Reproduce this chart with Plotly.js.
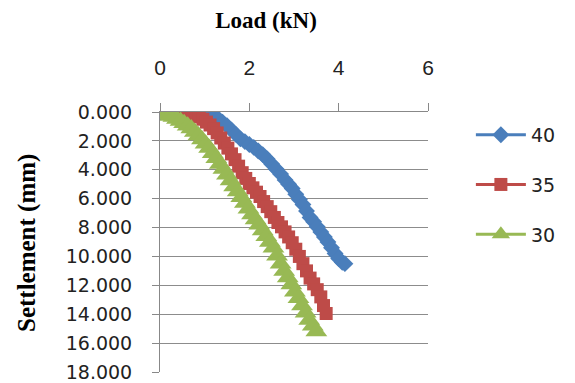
<!DOCTYPE html>
<html><head><meta charset="utf-8">
<script src="https://cdn.plot.ly/plotly-3.0.1.min.js"></script>
<style>html,body{margin:0;padding:0;background:#fff}#c{width:575px;height:383px}</style>
</head><body><div id="c"></div>
<script>
const seriesNames = ["40", "35", "30"];
const load40 = [0,0.1,0.2,0.3,0.4,0.5,0.6,0.7,0.8,0.9,1.0,1.1,1.2,1.3,1.4,1.5,1.6,1.7,1.8,1.9,2.0,2.1,2.2,2.3,2.4,2.5,2.6,2.7,2.8,2.88,2.96,3.04,3.12,3.2,3.28,3.36,3.44,3.52,3.6,3.68,3.76,3.84,3.92,4.0,4.08,4.14];
const settle40 = [0,0.01,0.02,0.03,0.04,0.05,0.06,0.08,0.1,0.13,0.17,0.22,0.3,0.45,0.7,0.95,1.25,1.55,1.85,2.05,2.25,2.45,2.7,2.95,3.25,3.6,3.95,4.3,4.7,5.0,5.3,5.7,6.05,6.4,6.85,7.3,7.6,7.95,8.3,8.65,9.0,9.4,9.8,10.15,10.4,10.5];
const load35 = [0,0.08,0.16,0.24,0.32,0.4,0.48,0.56,0.64,0.72,0.8,0.88,0.96,1.04,1.12,1.2,1.28,1.36,1.44,1.52,1.6,1.68,1.76,1.84,1.92,2.0,2.08,2.16,2.24,2.32,2.4,2.48,2.56,2.64,2.72,2.8,2.88,2.96,3.04,3.12,3.2,3.28,3.36,3.44,3.52,3.6,3.66,3.72];
const settle35 = [0,0.01,0.02,0.04,0.06,0.08,0.11,0.14,0.18,0.22,0.27,0.33,0.5,0.7,0.9,1.15,1.45,1.8,2.15,2.5,2.9,3.3,3.75,4.2,4.6,4.95,5.25,5.55,5.85,6.2,6.55,6.9,7.3,7.65,7.95,8.3,8.65,9.05,9.5,10.0,10.5,11.0,11.5,11.9,12.3,12.8,13.4,13.95];
const load30 = [0,0.06,0.12,0.18,0.24,0.3,0.38,0.46,0.54,0.62,0.7,0.78,0.86,0.94,1.02,1.1,1.18,1.26,1.34,1.42,1.5,1.58,1.66,1.74,1.82,1.9,1.98,2.06,2.14,2.22,2.3,2.38,2.46,2.54,2.62,2.7,2.78,2.86,2.94,3.02,3.1,3.18,3.26,3.34,3.42,3.5];
const settle30 = [0,0.06,0.13,0.2,0.27,0.35,0.48,0.62,0.78,0.96,1.15,1.38,1.62,1.9,2.2,2.5,2.85,3.2,3.6,3.95,4.35,4.75,5.15,5.5,5.9,6.3,6.7,7.1,7.45,7.8,8.2,8.6,9.0,9.4,9.95,10.5,11.0,11.45,11.95,12.45,12.9,13.4,13.9,14.4,14.8,15.2];
const xTicks = [0, 2, 4, 6];
const yTicks = [0, 2, 4, 6, 8, 10, 12, 14, 16, 18];

const colors = ["#4A7EBB", "#BE4B48", "#98B954"];
const symbols = ["diamond", "square", "triangle-up"];
const sizes = [13, 13, 19];
const xs = [load40, load35, load30];
const ys = [settle40, settle35, settle30];

const traces = xs.map((x, i) => ({
  x: x, y: ys[i], name: seriesNames[i], type: "scatter", mode: "lines+markers",
  line: {color: colors[i], width: 3},
  marker: {symbol: symbols[i], size: sizes[i], color: colors[i]},
  legendgroup: "g" + i
}));

const layout = {
  width: 575, height: 383,
  margin: {l: 160, r: 147, t: 112, b: 11},
  paper_bgcolor: "#fff", plot_bgcolor: "#fff",
  showlegend: true,
  legend: {x: 1.16, xanchor: "left", y: 0.985, yanchor: "top", traceorder: "grouped", tracegroupgap: 22,
           font: {family: "DejaVu Sans", size: 19, color: "#222"}, itemwidth: 50},
  title: {text: "<b>Load (kN)</b>", x: 266/575, xref: "container", xanchor: "center", y: 1 - 20/383, yref: "container", yanchor: "middle",
          font: {family: "Liberation Serif, Times New Roman", size: 23, color: "#000"}},
  xaxis: {side: "top", range: [0, 6], tickvals: xTicks, ticktext: xTicks.map(String),
          showgrid: false, zeroline: false, showline: true, linecolor: "#888", linewidth: 1,
          ticks: "outside", ticklen: 8, tickcolor: "#888", ticklabelstandoff: 20,
          tickfont: {family: "Liberation Sans, Arial", size: 21, color: "#222"}},
  yaxis: {range: [18, 0], tickvals: yTicks, ticktext: yTicks.map(v => v.toFixed(3)),
          showgrid: true, gridcolor: "#8c8c8c", gridwidth: 1, zeroline: false,
          showline: true, linecolor: "#888", linewidth: 1,
          ticks: "outside", ticklen: 7, tickcolor: "#888", ticklabelstandoff: 16,
          tickfont: {family: "DejaVu Sans", size: 19, color: "#222"}},
  annotations: [{text: "<b>Settlement (mm)</b>", textangle: -90, xref: "paper", yref: "paper",
                 x: -(160 - 27) / 268, y: 1 - (243 - 112) / 260, showarrow: false,
                 xanchor: "center", yanchor: "middle",
                 font: {family: "Liberation Serif, Times New Roman", size: 25, color: "#000"}}]
};
Plotly.newPlot("c", traces, layout, {displayModeBar: false, staticPlot: true});
</script>
</body></html>
